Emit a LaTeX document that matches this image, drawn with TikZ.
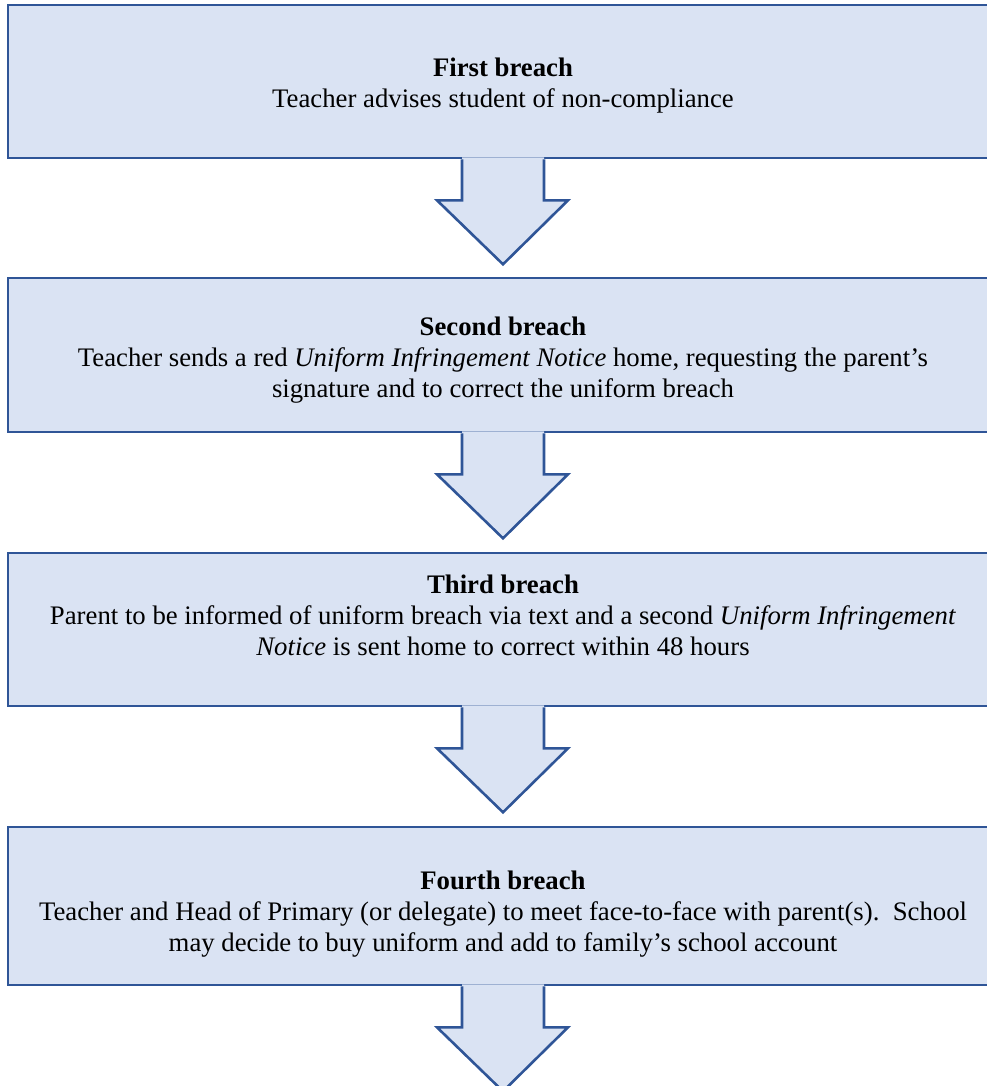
\documentclass[tikz,border=0pt]{standalone}
\usepackage{fontspec}
\setmainfont{Liberation Serif}
\usetikzlibrary{calc}
\definecolor{boxfill}{HTML}{DAE3F3}
\definecolor{boxline}{HTML}{2F5597}
\begin{document}
\begin{tikzpicture}[x=1pt,y=-1pt,
  stagebox/.style={draw=boxline,fill=boxfill,line width=2.6pt,minimum width=990pt,inner sep=0pt},
  txt/.style={align=center,font=\fontsize{26.75}{31}\selectfont,inner sep=0pt},
  arrowfill/.style={fill=boxfill,draw=none},
  arrowline/.style={draw=boxline,line width=2.6pt,line join=miter}]
\useasboundingbox (0,0) rectangle (987,1086);
\clip (0,0) rectangle (987,1086);
\node[stagebox,minimum height=153pt] (b1) at (503,81.5) {};
\node[stagebox,minimum height=154pt] (b2) at (503,355) {};
\node[stagebox,minimum height=153pt] (b3) at (503,629.5) {};
\node[stagebox,minimum height=158pt] (b4) at (503,906) {};
\node[txt] (t1) at ($(b1.center)+(0,4)$) {\textbf{First breach}\\Teacher advises student of non-compliance};
\node[txt] (t2) at ($(b2.center)+(0,5)$) {\textbf{Second breach}\\Teacher sends a red \textit{Uniform Infringement Notice} home, requesting the parent’s\\signature and to correct the uniform breach};
\node[txt] (t3) at ($(b3.center)+(0,-14)$) {\textbf{Third breach}\\Parent to be informed of uniform breach via text and a second \textit{Uniform Infringement}\\\textit{Notice} is sent home to correct within 48 hours};
\node[txt] (t4) at ($(b4.center)+(0,8)$) {\textbf{Fourth breach}\\Teacher and Head of Primary (or delegate) to meet face-to-face with parent(s).\ \ School\\may decide to buy uniform and add to family’s school account};
\foreach \b in {b1,b2,b3,b4}{
  \fill[arrowfill] ($(\b.south)+(-41,-2)$) -- ($(\b.south)+(-41,41)$) -- ($(\b.south)+(-66,41)$) -- ($(\b.south)+(0,105)$) -- ($(\b.south)+(65,41)$) -- ($(\b.south)+(41,41)$) -- ($(\b.south)+(41,-2)$) -- cycle;
  \draw[arrowline] ($(\b.south)+(-41,0)$) -- ($(\b.south)+(-41,41)$) -- ($(\b.south)+(-66,41)$) -- ($(\b.south)+(0,105)$) -- ($(\b.south)+(65,41)$) -- ($(\b.south)+(41,41)$) -- ($(\b.south)+(41,0)$);
}
\end{tikzpicture}
\end{document}
